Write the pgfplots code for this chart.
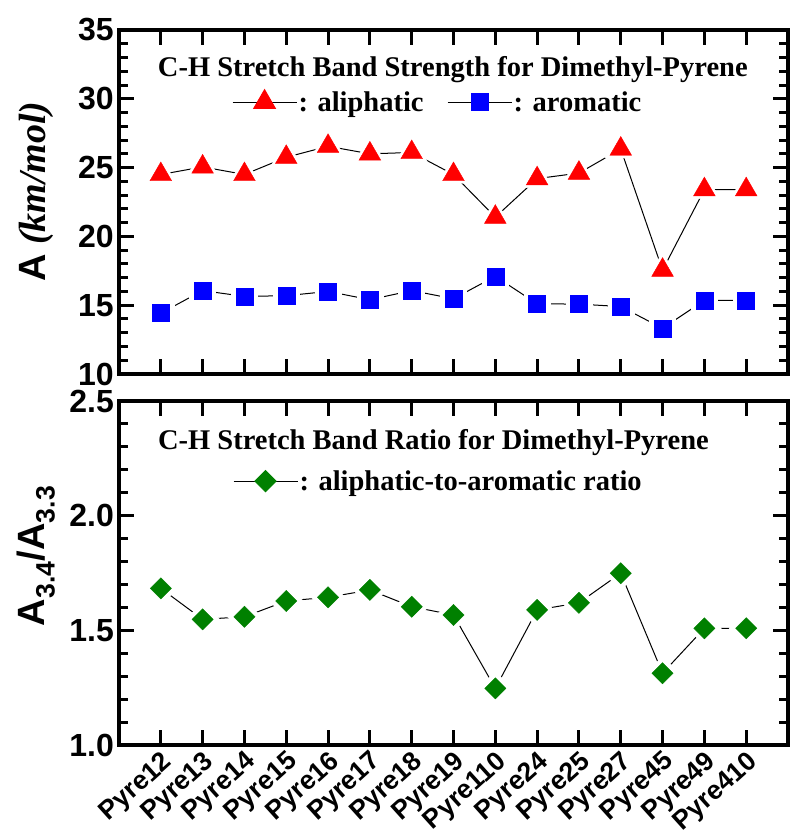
\documentclass[border=0pt]{standalone}
\usepackage{pgfplots}
\pgfplotsset{compat=1.18}
\usepackage{pgfplotstable}
\usepackage{fontspec}
\setmainfont{Liberation Serif}
\newfontfamily\arial{Liberation Sans}
\definecolor{ogreen}{RGB}{0,128,0}

\pgfplotstableread{
i ali aro ratio
0 24.5 14.42 1.683
1 25.05 16.06 1.548
2 24.5 15.64 1.559
3 25.75 15.69 1.628
4 26.55 16.0 1.644
5 26.0 15.4 1.676
6 26.1 16.06 1.603
7 24.5 15.47 1.567
8 21.4 17.1 1.247
9 24.2 15.1 1.589
10 24.6 15.08 1.62
11 26.35 14.9 1.749
12 17.55 13.32 1.313
13 23.4 15.35 1.509
14 23.4 15.35 1.509
}\data

\pgfplotsset{
  common/.style={
    scale only axis, width=669pt, height=344pt,
    xmin=-1, xmax=15,
    xtick={0,...,14},
    axis line style={line width=4pt},
    every tick/.style={black, line width=3pt},
    major tick length=15pt, minor tick length=9pt,
    tick align=inside,
    /pgf/number format/assume math mode=true,
    yticklabel style={font=\arial\bfseries\fontsize{32}{32}\selectfont, inner xsep=5pt},
    every axis y label/.style={at={(rel axis cs:0,0.53)}, anchor=center, xshift=-83pt, rotate=90, font=\fontsize{38}{38}\selectfont},
    legend image code/.code={\draw[mark repeat=2,mark phase=2,##1] plot coordinates {(0pt,0pt) (32pt,0pt) (64pt,0pt)};},
    legend style={draw=none, fill=none, anchor=center, legend columns=2,
      font=\bfseries\fontsize{28.5}{30}\selectfont,
      cells={anchor=west},
      nodes={inner xsep=1.5pt},
      /tikz/every even column/.append style={column sep=22pt}},
  }
}

\begin{document}
\begin{tikzpicture}
\begin{axis}[common, name=top,
  ymin=10, ymax=35, ytick={10,15,...,35}, minor y tick num=4,
  xticklabels={},
  ylabel={{\arial\bfseries A} \textbf{\textit{(km/mol)}}},
  legend style={at={(0.476,0.79)}},
]
\addplot[black, line width=1pt, forget plot] table[x=i,y=ali]{\data};
\addplot[only marks, mark=triangle*, mark size=18pt, white, forget plot] table[x=i,y=ali]{\data};
\addplot[only marks, mark=triangle*, mark size=12.5pt, red, forget plot] table[x=i,y=ali]{\data};
\addplot[black, line width=1pt, forget plot] table[x=i,y=aro]{\data};
\addplot[only marks, mark=square*, mark size=13pt, white, forget plot] table[x=i,y=aro]{\data};
\addplot[only marks, mark=square*, mark size=8.5pt, blue, forget plot] table[x=i,y=aro]{\data};
\addlegendimage{black, line width=1pt, mark=triangle*, mark size=12.5pt, mark options={red}}
\addlegendentry{: aliphatic}
\addlegendimage{black, line width=1pt, mark=square*, mark size=8.5pt, mark options={blue}}
\addlegendentry{: aromatic}
\node[font=\bfseries\fontsize{28.5}{30}\selectfont] at (rel axis cs:0.499,0.884) {C-H Stretch Band Strength for Dimethyl-Pyrene};
\end{axis}

\begin{axis}[common, name=bot, at={(top.south west)}, anchor=north west, yshift=-27pt,
  ymin=1, ymax=2.5, ytick={1,1.5,2,2.5}, minor y tick num=4,
  yticklabel style={/pgf/number format/.cd, fixed, fixed zerofill, precision=1},
  xticklabels={Pyre12,Pyre13,Pyre14,Pyre15,Pyre16,Pyre17,Pyre18,Pyre19,Pyre110,Pyre24,Pyre25,Pyre27,Pyre45,Pyre49,Pyre410},
  x tick label style={font=\arial\bfseries\fontsize{26.5}{26.5}\selectfont, rotate=42, anchor=north east, inner sep=3pt},
  ylabel={\arial\bfseries A\textsubscript{3.4}/A\textsubscript{3.3}},
  every axis y label/.append style={at={(rel axis cs:0,0.55)}},
  legend style={at={(0.477,0.767)}},
]
\addplot[black, line width=1pt, forget plot] table[x=i,y=ratio]{\data};
\addplot[only marks, mark=square*, mark size=12pt, white, mark options={rotate=45}, forget plot] table[x=i,y=ratio]{\data};
\addplot[only marks, mark=square*, mark size=7.5pt, ogreen, mark options={rotate=45}, forget plot] table[x=i,y=ratio]{\data};
\addlegendimage{black, line width=1pt, mark=square*, mark size=7.5pt, mark options={ogreen, rotate=45}}
\addlegendentry{: aliphatic-to-aromatic ratio}
\node[font=\bfseries\fontsize{28.5}{30}\selectfont] at (rel axis cs:0.47,0.878) {C-H Stretch Band Ratio for Dimethyl-Pyrene};
\end{axis}

\path (top.south west) ++(-119pt,374pt) coordinate (bbA);
\path (bot.south west) ++(671pt,-95pt) coordinate (bbB);
\path (bbA) rectangle (bbB);
\end{tikzpicture}
\end{document}
